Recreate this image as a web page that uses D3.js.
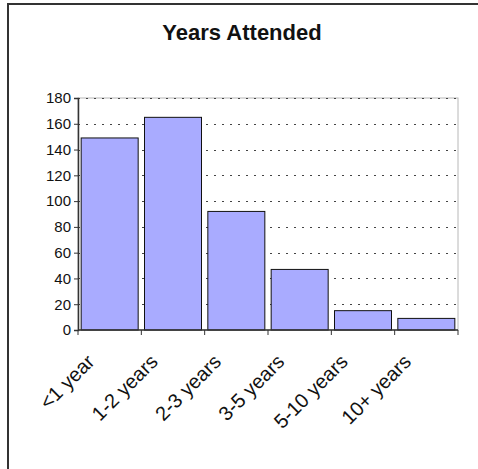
<!DOCTYPE html>
<html>
<head>
<meta charset="utf-8">
<script src="https://cdn.jsdelivr.net/npm/d3@7"></script>
<style>
  html, body { margin: 0; padding: 0; background: #fff; }
  svg { display: block; }
</style>
</head>
<body>
<svg id="chart" width="478" height="469"></svg>
<script>
// Number of attendees by years attended
const categories = ["<1 year", "1-2 years", "2-3 years", "3-5 years", "5-10 years", "10+ years"];
const counts = [149, 165, 92, 47, 15, 9];
const yTicks = [0, 20, 40, 60, 80, 100, 120, 140, 160, 180];
const title = "Years Attended";

const svg = d3.select("#chart");
const W = 478, H = 469;
const plot = { left: 78, right: 458, top: 98, bottom: 330 };

svg.append("rect").attr("width", W).attr("height", H).attr("fill", "#fff");

// outer chart frame
svg.append("rect")
  .attr("x", 8).attr("y", 4)
  .attr("width", W + 20).attr("height", H + 20)
  .attr("fill", "none").attr("stroke", "#333").attr("stroke-width", 2);

const x = d3.scaleBand()
  .domain(categories)
  .range([plot.left, plot.right])
  .paddingInner(0.1)
  .paddingOuter(0.05);

const y = d3.scaleLinear()
  .domain([0, 180])
  .range([plot.bottom, plot.top]);

// plot area border
svg.append("rect")
  .attr("x", plot.left).attr("y", plot.top)
  .attr("width", plot.right - plot.left).attr("height", plot.bottom - plot.top)
  .attr("fill", "none").attr("stroke", "#b8b8b8").attr("stroke-width", 1);

// dotted horizontal gridlines
svg.append("g")
  .selectAll("line")
  .data(yTicks.filter(d => d > 0))
  .join("line")
  .attr("x1", plot.left).attr("x2", plot.right)
  .attr("y1", d => Math.round(y(d)) + 0.5).attr("y2", d => Math.round(y(d)) + 0.5)
  .attr("stroke", "#444").attr("stroke-width", 1)
  .attr("stroke-dasharray", "2,6");

// bars
svg.append("g")
  .selectAll("rect")
  .data(categories.map((c, i) => ({ c, v: counts[i] })))
  .join("rect")
  .attr("x", d => x(d.c))
  .attr("y", d => y(d.v))
  .attr("width", x.bandwidth())
  .attr("height", d => y(0) - y(d.v))
  .attr("fill", "#a9abff")
  .attr("stroke", "#111")
  .attr("stroke-width", 1);

// y axis
const yAxis = d3.axisLeft(y).tickValues(yTicks).tickSize(4).tickPadding(3);
const gy = svg.append("g").attr("transform", `translate(${plot.left},0)`).call(yAxis);
gy.select(".domain").attr("stroke", "#333").attr("stroke-width", 1.5);
gy.selectAll(".tick line").attr("stroke", "#333");
gy.selectAll(".tick text")
  .attr("font-family", "'Liberation Sans', Arial, sans-serif")
  .attr("font-size", 15)
  .attr("fill", "#111");

// x axis: tick marks at category boundaries
const boundaries = d3.range(categories.length + 1).map(i => plot.left + i * x.step());
svg.append("line")
  .attr("x1", plot.left).attr("x2", plot.right)
  .attr("y1", y(0)).attr("y2", y(0))
  .attr("stroke", "#333").attr("stroke-width", 1.5);
svg.append("g")
  .selectAll("line")
  .data(boundaries)
  .join("line")
  .attr("x1", d => d).attr("x2", d => d)
  .attr("y1", y(0)).attr("y2", y(0) + 5)
  .attr("stroke", "#333").attr("stroke-width", 1);

// rotated category labels
svg.append("g")
  .selectAll("text")
  .data(categories)
  .join("text")
  .attr("transform", d => `translate(${x(d) + x.bandwidth() / 2 - 14},${y(0) + 33}) rotate(-45)`)
  .attr("text-anchor", "end")
  .attr("font-family", "'Liberation Sans', Arial, sans-serif")
  .attr("font-size", 20)
  .attr("fill", "#111")
  .text(d => d);

// title
svg.append("text")
  .attr("x", 242)
  .attr("y", 40)
  .attr("text-anchor", "middle")
  .attr("font-family", "'Liberation Sans', Arial, sans-serif")
  .attr("font-weight", "bold")
  .attr("font-size", 22)
  .attr("fill", "#111")
  .text(title);
</script>
</body>
</html>
